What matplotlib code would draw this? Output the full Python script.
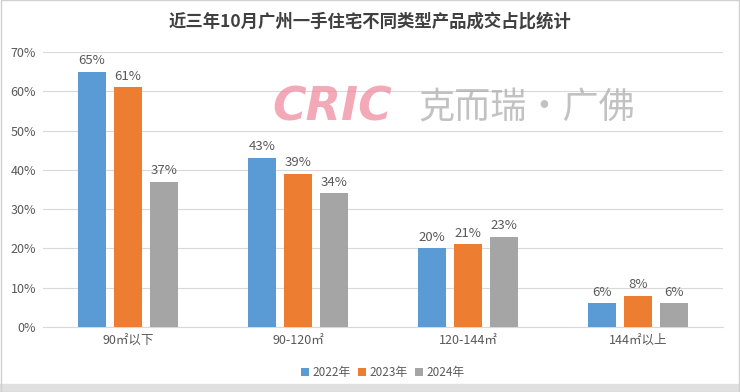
import numpy as np
import matplotlib.pyplot as plt

plt.rcParams['font.family'] = ['Noto Sans CJK SC', 'DejaVu Sans']

categories = ['90㎡以下', '90-120㎡', '120-144㎡', '144㎡以上']
years = ['2022年', '2023年', '2024年']
v2022 = [65, 43, 20, 6]
v2023 = [61, 39, 21, 8]
v2024 = [37, 34, 23, 6]
colors = ['#5B9BD5', '#ED7D31', '#A5A5A5']
txt = '#595959'

fig = plt.figure(figsize=(7.4, 3.92), dpi=100)
ax = fig.add_axes([0.058, 0.166, 0.919, 0.701])

x = np.arange(len(categories))
w = 0.165
off = 0.212
for i, (vals, c, lab) in enumerate(zip([v2022, v2023, v2024], colors, years)):
    pos = x + (i - 1) * off
    bars = ax.bar(pos, vals, w, color=c, label=lab, zorder=3)
    for p, v in zip(pos, vals):
        ax.text(p, v + 1.2, f'{v}%', ha='center', va='bottom', fontsize=9.5, color=txt)

ax.set_xlim(-0.5, 3.5)
ax.set_ylim(0, 70)
ax.set_yticks(range(0, 71, 10))
ax.set_yticklabels([f'{t}%' for t in range(0, 71, 10)], color=txt, fontsize=9)
ax.set_xticks(x)
ax.set_xticklabels(categories, color=txt, fontsize=9)
ax.tick_params(length=0, pad=5)
ax.grid(axis='y', color='#D9D9D9', lw=0.8, zorder=0)
for s in ['top', 'right', 'left']:
    ax.spines[s].set_visible(False)
ax.spines['bottom'].set_color('#D9D9D9')

fig.text(0.5, 0.944, '近三年10月广州一手住宅不同类型产品成交占比统计', ha='center', va='center',
         fontsize=12.5, fontweight='bold', color='#404040')

# watermark
fig.text(0.368, 0.725, 'CRIC', fontsize=33, fontweight='bold', style='italic',
         color='#F08CA0', alpha=0.75, ha='left', va='center', family='DejaVu Sans')
fig.text(0.565, 0.725, '克而瑞·广佛', fontsize=26, color='#A8A8A8', alpha=0.7,
         ha='left', va='center')

leg = ax.legend(loc='center', bbox_to_anchor=(0.5, -0.165), ncol=3, frameon=False,
                fontsize=8.5, handlelength=0.7, handleheight=0.7, handletextpad=0.3,
                columnspacing=0.6)
for t in leg.get_texts():
    t.set_color(txt)

fig.patches.append(plt.Rectangle((0, 0), 1, 0.02, transform=fig.transFigure,
                                 color='#E0E0E0', zorder=0))
fig.patches.append(plt.Rectangle((0.001, 0.001), 0.998, 0.998, transform=fig.transFigure,
                                 fill=False, edgecolor='#D0D0D0', lw=1))

fig.savefig('out.png', dpi=100)
